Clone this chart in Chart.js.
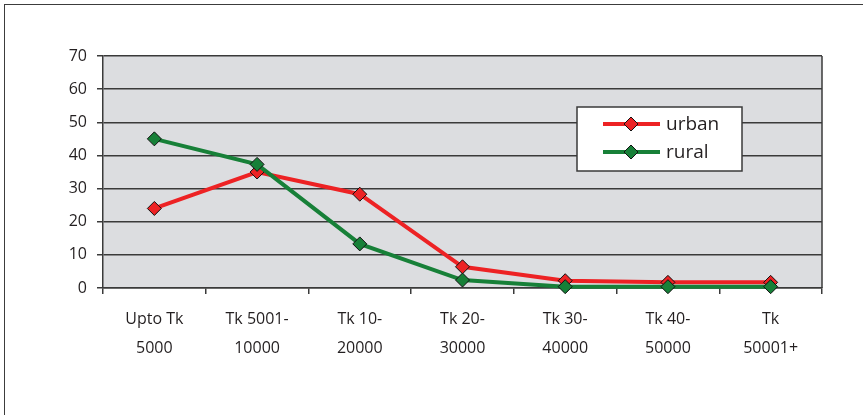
<!DOCTYPE html>
<html>
<head>
<meta charset="utf-8">
<script src="https://cdn.jsdelivr.net/npm/chart.js@4/dist/chart.umd.min.js"></script>
<style>
  html, body { margin: 0; padding: 0; background: #fff; overflow: hidden; }
  #wrap { position: relative; width: 863px; height: 415px; }
  #frame { position: absolute; left: 4px; top: 4px; width: 900px; height: 450px;
           border-left: 1.5px solid #3c3c3c; border-top: 1.5px solid #3c3c3c; }
  canvas { position: absolute; left: 0; top: 0; }
</style>
</head>
<body>
<div id="wrap">
  <div id="frame"></div>
  <canvas id="incomeChart" width="863" height="415"></canvas>
</div>
<script>
// categories (monthly income bands)
const categories = [
  ['Upto Tk', '5000'],
  ['Tk 5001-', '10000'],
  ['Tk 10-', '20000'],
  ['Tk 20-', '30000'],
  ['Tk 30-', '40000'],
  ['Tk 40-', '50000'],
  ['Tk', '50001+']
];
const urbanValues = [24, 35, 28.3, 6.4, 2.2, 1.7, 1.7];
const ruralValues = [45, 37.3, 13.3, 2.4, 0.4, 0.4, 0.4];
const yTicks = [0, 10, 20, 30, 40, 50, 60, 70];

const RED = '#ed2224';
const GREEN = '#178038';
const PLOT_BG = '#dcdde0';
const LINE_GREY = '#3a3a3a';
const TEXT = '#231f20';
const FONT = "'Open Sans', 'Noto Sans', sans-serif";

// grey plot background
const plotBg = {
  id: 'plotBg',
  beforeDraw(chart) {
    const { ctx, chartArea: a } = chart;
    ctx.save();
    ctx.fillStyle = PLOT_BG;
    ctx.fillRect(a.left, a.top, a.right - a.left, a.bottom - a.top);
    // right border of the plot
    ctx.strokeStyle = LINE_GREY;
    ctx.lineWidth = 1.5;
    ctx.beginPath();
    ctx.moveTo(a.right, a.top);
    ctx.lineTo(a.right, a.bottom);
    ctx.stroke();
    ctx.restore();
  }
};

// boxed legend sitting inside the plot
const boxLegend = {
  id: 'boxLegend',
  afterDraw(chart) {
    const { ctx } = chart;
    const x = 577, y = 107, w = 165, h = 64;
    ctx.save();
    ctx.fillStyle = '#fff';
    ctx.fillRect(x, y, w, h);
    ctx.strokeStyle = LINE_GREY;
    ctx.lineWidth = 1.5;
    ctx.strokeRect(x, y, w, h);
    chart.data.datasets.forEach((ds, i) => {
      const cy = y + 17 + i * 28;
      ctx.strokeStyle = ds.borderColor;
      ctx.lineWidth = 4;
      ctx.beginPath();
      ctx.moveTo(x + 26, cy);
      ctx.lineTo(x + 83, cy);
      ctx.stroke();
      const cx = x + 54, r = 7;
      ctx.fillStyle = ds.pointBackgroundColor;
      ctx.strokeStyle = '#111';
      ctx.lineWidth = 1;
      ctx.beginPath();
      ctx.moveTo(cx, cy - r);
      ctx.lineTo(cx + r, cy);
      ctx.lineTo(cx, cy + r);
      ctx.lineTo(cx - r, cy);
      ctx.closePath();
      ctx.fill();
      ctx.stroke();
      ctx.fillStyle = TEXT;
      ctx.font = '19px ' + FONT;
      ctx.textBaseline = 'middle';
      ctx.fillText(ds.label, x + 89, cy + 1);
    });
    ctx.restore();
  }
};

new Chart(document.getElementById('incomeChart').getContext('2d'), {
  type: 'line',
  data: {
    labels: categories,
    datasets: [
      {
        label: 'urban',
        data: urbanValues,
        order: 1,
        clip: false,
        borderColor: RED,
        borderWidth: 4,
        pointStyle: 'rectRot',
        pointRadius: 7,
        pointBackgroundColor: RED,
        pointBorderColor: '#111',
        pointBorderWidth: 1,
        tension: 0
      },
      {
        label: 'rural',
        data: ruralValues,
        order: 0,
        clip: false,
        borderColor: GREEN,
        borderWidth: 4,
        pointStyle: 'rectRot',
        pointRadius: 7,
        pointBackgroundColor: GREEN,
        pointBorderColor: '#111',
        pointBorderWidth: 1,
        tension: 0
      }
    ]
  },
  options: {
    responsive: false,
    animation: false,
    layout: { padding: { left: 0, top: 56, right: 41, bottom: 0 } },
    plugins: { legend: { display: false }, tooltip: { enabled: false } },
    scales: {
      x: {
        offset: true,
        grid: { offset: true, drawOnChartArea: false, drawTicks: true, tickLength: 6, color: LINE_GREY, lineWidth: 1.5 },
        border: { color: LINE_GREY, width: 1.5 },
        ticks: { color: TEXT, font: { family: FONT, size: 16, lineHeight: 1.8 }, padding: 11, maxRotation: 0, autoSkip: false },
        afterFit(s) { s.height = 127; }
      },
      y: {
        min: 0,
        max: 70,
        afterBuildTicks(s) { s.ticks = yTicks.map(v => ({ value: v })); },
        grid: { color: LINE_GREY, lineWidth: 1.5, tickLength: 6 },
        border: { color: LINE_GREY, width: 1.5 },
        ticks: { color: TEXT, font: { family: FONT, size: 16 }, padding: 10 },
        afterFit(s) { s.width = 103; }
      }
    }
  },
  plugins: [plotBg, boxLegend]
});
</script>
</body>
</html>
